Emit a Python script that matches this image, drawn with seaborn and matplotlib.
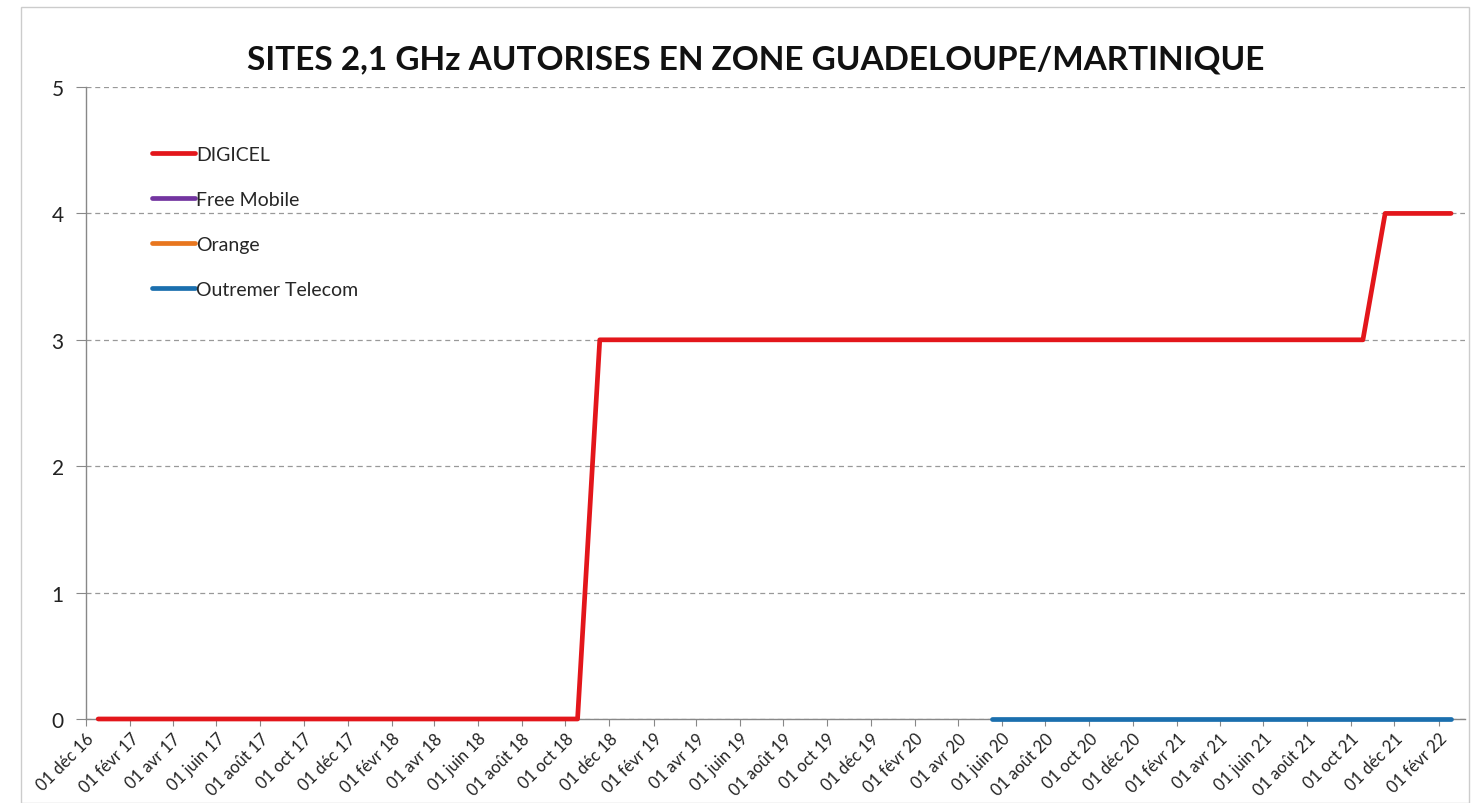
import numpy as np
import pandas as pd
import seaborn as sns
import matplotlib.pyplot as plt
import matplotlib.dates as mdates
import matplotlib.transforms as mtransforms
from matplotlib.lines import Line2D
from matplotlib.patches import Rectangle

# monthly points, Dec 2016 -> Feb 2022 (mid-month)
months = pd.date_range('2016-12-01', '2022-02-01', freq='MS') + pd.Timedelta(days=17)
digicel = [0] * 23 + [3] * 36 + [4] * 4
free_mobile = [np.nan] * 63
orange = [np.nan] * 63
outremer = [np.nan] * 41 + [0] * 22

operators = ['DIGICEL', 'Free Mobile', 'Orange', 'Outremer Telecom']
colors = {'DIGICEL': '#E3161B', 'Free Mobile': '#7335A0',
          'Orange': '#E8761E', 'Outremer Telecom': '#1B6FAE'}
fr_months = {1: 'janv', 2: 'févr', 3: 'mars', 4: 'avr', 5: 'mai', 6: 'juin',
             7: 'juil', 8: 'août', 9: 'sept', 10: 'oct', 11: 'nov', 12: 'déc'}

rows = []
for name, vals in zip(operators, [digicel, free_mobile, orange, outremer]):
    for d, v in zip(months, vals):
        rows.append({'date': d, 'value': v, 'operator': name})
df = pd.DataFrame(rows).dropna()

sns.set_style('white')
plt.rcParams['font.family'] = ['Lato', 'DejaVu Sans']

fig = plt.figure(figsize=(14.75, 8.04), dpi=100)
ax = fig.add_axes([0.0583, 0.1045, 0.9347, 0.786])

sns.lineplot(data=df, x='date', y='value', hue='operator', hue_order=operators,
             palette=colors, linewidth=3.4, legend=False, ax=ax)
for ln in ax.lines:
    ln.set_clip_on(False)
    ln.set_zorder(5)
    ln.set_solid_capstyle('round')

ax.set_ylim(0, 5)
ax.set_yticks(range(6))
ax.set_xlim(pd.Timestamp('2016-12-01'), pd.Timestamp('2022-03-09'))
ax.xaxis.set_major_locator(mdates.MonthLocator(bymonth=[2, 4, 6, 8, 10, 12]))
ax.xaxis.set_major_formatter(plt.FuncFormatter(
    lambda x, pos: '01 %s %s' % (fr_months[mdates.num2date(x).month],
                                 mdates.num2date(x).strftime('%y'))))
shift = mtransforms.ScaledTranslation(12 / 100, 0, fig.dpi_scale_trans)
for lab in ax.get_xticklabels():
    lab.set_rotation(45)
    lab.set_ha('right')
    lab.set_rotation_mode('anchor')
    lab.set_transform(lab.get_transform() + shift)
ax.tick_params(axis='x', labelsize=12, length=5, color='#888888', direction='out',
               bottom=True, pad=3, labelcolor='#222222')
ax.tick_params(axis='y', labelsize=15, length=7, color='#888888', direction='out',
               left=True, pad=9, labelcolor='#222222')

ax.grid(axis='y', color='#999999', linestyle=(0, (4, 3)), linewidth=0.9)
ax.set_axisbelow(True)
for side in ['top', 'right']:
    ax.spines[side].set_visible(False)
for side in ['left', 'bottom']:
    ax.spines[side].set_color('#888888')
    ax.spines[side].set_linewidth(1.0)
ax.set_xlabel('')
ax.set_ylabel('')

handles = [Line2D([], [], color=colors[o], linewidth=3.4) for o in operators]
ax.legend(handles, operators, loc='upper left', bbox_to_anchor=(0.035, 0.935),
          frameon=False, fontsize=14, handlelength=2.2, handletextpad=0.1,
          labelspacing=1.45)

fig.text(0.512, 0.925, 'SITES 2,1 GHz AUTORISES EN ZONE GUADELOUPE/MARTINIQUE',
         ha='center', va='center', fontsize=24, fontweight='bold', color='#111111')
fig.patches.append(Rectangle((0.014, 0.0), 0.982, 0.99, transform=fig.transFigure,
                             fill=False, edgecolor='#cccccc', linewidth=1))

fig.savefig('out.png', dpi=100)
